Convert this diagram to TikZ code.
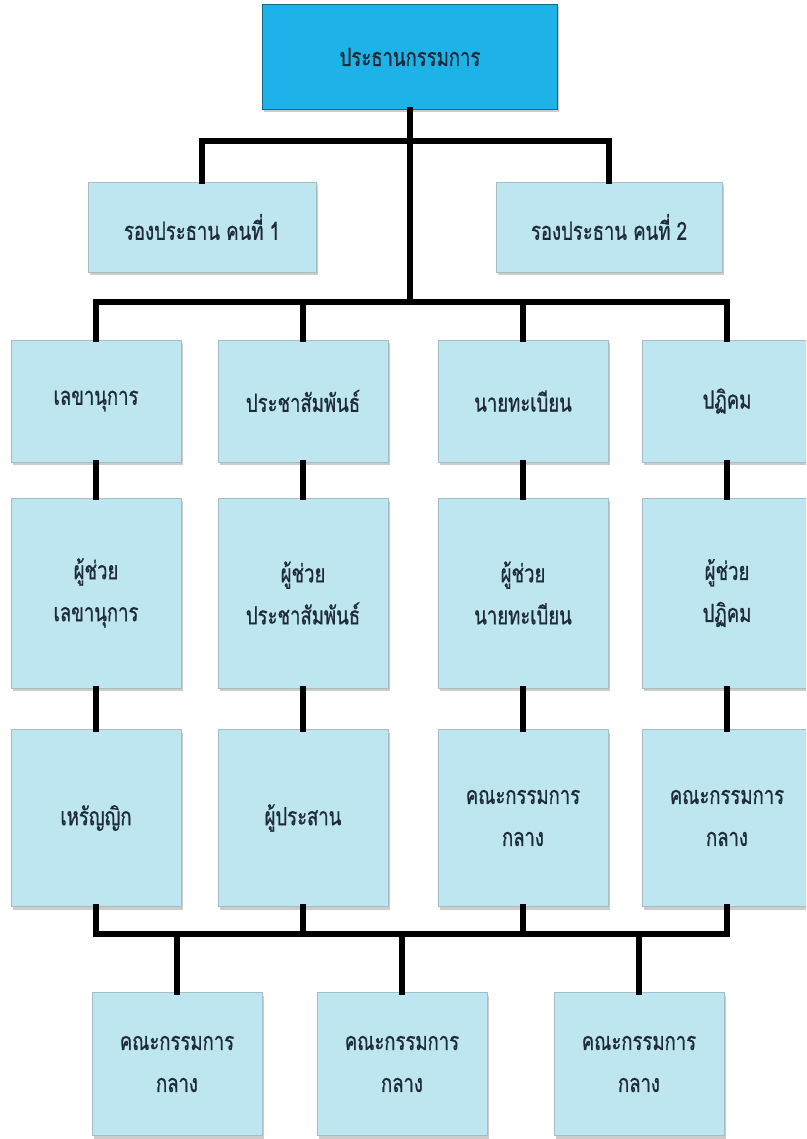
\documentclass[tikz,border=0pt]{standalone}
\usepackage{fontspec}
\newfontfamily\thaifont[Script=Thai, FakeStretch=0.74, FakeBold=0.8]{Loma}
\usetikzlibrary{shadows}
\definecolor{boxblue}{HTML}{BDE6F1}
\definecolor{topblue}{HTML}{1DB3E8}
\definecolor{txt}{HTML}{1E2A38}
\tikzset{
  orgbox/.style={draw=boxblue!60!gray, line width=0.8pt, fill=boxblue, text=txt,
    minimum width=170pt, align=center, inner sep=2pt,
    font=\thaifont\fontsize{25}{42}\selectfont,
    drop shadow={shadow xshift=1.5pt, shadow yshift=-3pt, opacity=0.5, fill=gray!80}},
  topbox/.style={orgbox, fill=topblue, draw=topblue!60!black},
  conn/.style={line width=5.5pt, draw=black, line cap=rect, line join=miter}
}
\begin{document}
\begin{tikzpicture}[x=1pt, y=-1pt]
\clip (0,0) rectangle (806,1139);
% bus levels
\coordinate (busA) at (0,141);
\coordinate (busB) at (0,302);
\coordinate (busC) at (0,934);
% top
\node[topbox, minimum width=295pt, minimum height=105pt] (top) at (410,57) {ประธานกรรมการ};
% vice presidents
\node[orgbox, minimum width=228pt, minimum height=90pt] (vp1) at (202,227) {รองประธาน คนที่ 1};
\node[orgbox, minimum width=226pt, minimum height=90pt] (vp2) at (609,227) {รองประธาน คนที่ 2};
% row 1
\node[orgbox, minimum height=122pt] (a1) at (96,401) {เลขานุการ};
\node[orgbox, minimum height=122pt] (b1) at (303,401) {ประชาสัมพันธ์};
\node[orgbox, minimum height=122pt] (c1) at (523,401) {นายทะเบียน};
\node[orgbox, minimum height=122pt] (d1) at (727,401) {ปฏิคม};
% row 2
\node[orgbox, minimum height=190pt] (a2) at (96,593) {ผู้ช่วย\\เลขานุการ};
\node[orgbox, minimum height=190pt] (b2) at (303,593) {ผู้ช่วย\\ประชาสัมพันธ์};
\node[orgbox, minimum height=190pt] (c2) at (523,593) {ผู้ช่วย\\นายทะเบียน};
\node[orgbox, minimum height=190pt] (d2) at (727,593) {ผู้ช่วย\\ปฏิคม};
% row 3
\node[orgbox, minimum height=177pt] (a3) at (96,818) {เหรัญญิก};
\node[orgbox, minimum height=177pt] (b3) at (303,818) {ผู้ประสาน};
\node[orgbox, minimum height=177pt] (c3) at (523,818) {คณะกรรมการ\\กลาง};
\node[orgbox, minimum height=177pt] (d3) at (727,818) {คณะกรรมการ\\กลาง};
% bottom
\node[orgbox, minimum height=143pt] (e1) at (177,1064) {คณะกรรมการ\\กลาง};
\node[orgbox, minimum height=143pt] (e2) at (402,1064) {คณะกรรมการ\\กลาง};
\node[orgbox, minimum height=143pt] (e3) at (639,1064) {คณะกรรมการ\\กลาง};
% connectors
\draw[conn] (top.south) -- (top.south |- busB);
\draw[conn] (vp1.north) -- (vp1.north |- busA) -- (vp2.north |- busA) -- (vp2.north);
\draw[conn] (a1.north) -- (a1.north |- busB) -- (d1.north |- busB) -- (d1.north);
\draw[conn] (b1.north) -- (b1.north |- busB);
\draw[conn] (c1.north) -- (c1.north |- busB);
\foreach \c in {a,b,c,d}{
  \draw[conn] (\c1.south) -- (\c2.north);
  \draw[conn] (\c2.south) -- (\c3.north);
}
\draw[conn] (a3.south) -- (a3.south |- busC) -- (d3.south |- busC) -- (d3.south);
\draw[conn] (b3.south) -- (b3.south |- busC);
\draw[conn] (c3.south) -- (c3.south |- busC);
\draw[conn] (e1.north |- busC) -- (e1.north);
\draw[conn] (e2.north |- busC) -- (e2.north);
\draw[conn] (e3.north |- busC) -- (e3.north);
\end{tikzpicture}
\end{document}
